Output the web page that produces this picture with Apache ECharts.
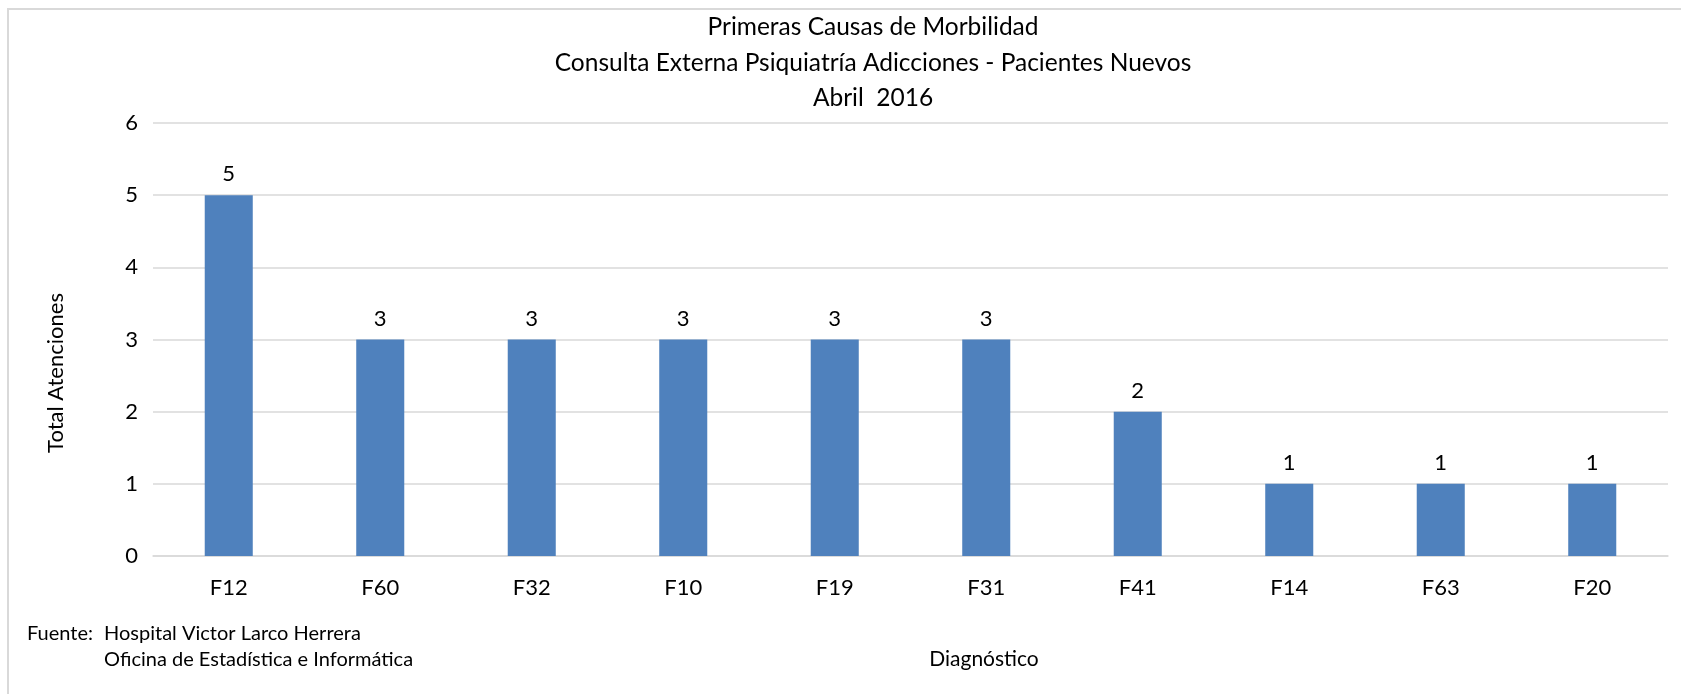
<!DOCTYPE html>
<html>
<head>
<meta charset="utf-8">
<script src="https://cdn.jsdelivr.net/npm/echarts@6/dist/echarts.min.js"></script>
<style>
  html, body { margin: 0; padding: 0; background: #fff; }
  #chart { width: 1681px; height: 694px; }
</style>
</head>
<body>
<div id="chart"></div>
<script>
// 数据
var categories = ['F12', 'F60', 'F32', 'F10', 'F19', 'F31', 'F41', 'F14', 'F63', 'F20'];
var values = [5, 3, 3, 3, 3, 3, 2, 1, 1, 1];
var yTicks = { min: 0, max: 6, interval: 1 };
var titleLines = ['Primeras Causas de Morbilidad', 'Consulta Externa Psiquiatría Adicciones - Pacientes Nuevos', 'Abril  2016'];
var sourceLines = ['Fuente:', 'Hospital Victor Larco Herrera', 'Oficina de Estadística e Informática'];

var font = 'Lato, "Open Sans", sans-serif';
var textColor = '#000';

var myChart = echarts.init(document.getElementById('chart'));
var option = {
  backgroundColor: '#fff',
  animation: false,
  grid: {
    left: 153,
    right: 13,
    top: 123,
    bottom: 138,
  },
  xAxis: {
    type: 'category',
    data: categories,
    axisLine: { lineStyle: { color: '#d9d9d9', width: 1.5 } },
    axisTick: { show: false },
    axisLabel: { color: textColor, fontSize: 22, fontFamily: font, margin: 21 },
  },
  yAxis: {
    type: 'value',
    min: yTicks.min,
    max: yTicks.max,
    interval: yTicks.interval,
    axisLine: { show: false },
    axisTick: { show: false },
    axisLabel: { color: textColor, fontSize: 22, fontFamily: font, margin: 15 },
    splitLine: { lineStyle: { color: '#d9d9d9', width: 1.5 } },
  },
  series: [
    {
      type: 'bar',
      data: values,
      barWidth: '31.7%',
      itemStyle: { color: '#4f81bd' },
      label: {
        show: true,
        position: 'top',
        distance: 10,
        color: textColor,
        fontSize: 22,
        fontFamily: font,
      },
    },
  ],
  graphic: [
    // 边框
    {
      type: 'rect',
      shape: { x: 8, y: 9, width: 1700, height: 720 },
      style: { fill: 'none', stroke: '#d9d9d9', lineWidth: 2 },
      silent: true,
    },
    // 标题
    {
      type: 'text', x: 873, y: 27,
      style: { text: titleLines[0], fill: textColor, font: '24.5px ' + font, align: 'center', verticalAlign: 'middle' },
    },
    {
      type: 'text', x: 873, y: 63,
      style: { text: titleLines[1], fill: textColor, font: '24.5px ' + font, align: 'center', verticalAlign: 'middle' },
    },
    {
      type: 'text', x: 873, y: 98,
      style: { text: titleLines[2], fill: textColor, font: '24.5px ' + font, align: 'center', verticalAlign: 'middle' },
    },
    // 坐标轴名称
    {
      type: 'text', x: 56, y: 373, rotation: Math.PI / 2,
      style: { text: 'Total Atenciones', fill: textColor, font: '22px ' + font, align: 'center', verticalAlign: 'middle' },
    },
    {
      type: 'text', x: 984, y: 659,
      style: { text: 'Diagnóstico', fill: textColor, font: '21px ' + font, align: 'center', verticalAlign: 'middle' },
    },
    // 数据来源
    {
      type: 'text', x: 27, y: 634,
      style: { text: sourceLines[0], fill: textColor, font: '20px ' + font, verticalAlign: 'middle' },
    },
    {
      type: 'text', x: 104, y: 634,
      style: { text: sourceLines[1], fill: textColor, font: '20px ' + font, verticalAlign: 'middle' },
    },
    {
      type: 'text', x: 104, y: 660,
      style: { text: sourceLines[2], fill: textColor, font: '20px ' + font, verticalAlign: 'middle' },
    },
  ],
};
myChart.setOption(option);
window.addEventListener('resize', function () {
  myChart.resize();
});
</script>
</body>
</html>
